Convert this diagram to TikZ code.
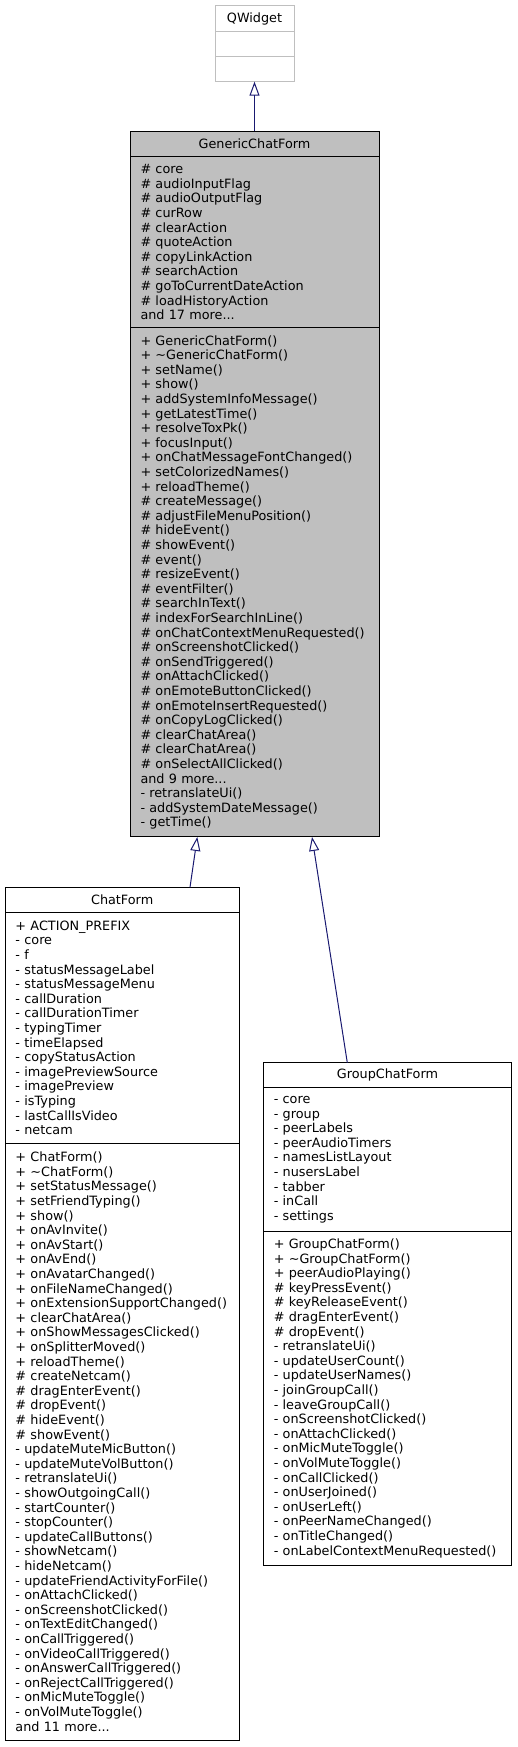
\documentclass[tikz,border=0pt]{standalone}
\usepackage{fontspec}
\setmainfont{DejaVu Sans}
\usetikzlibrary{positioning,arrows.meta}

\definecolor{edgeblue}{HTML}{191970}
\definecolor{classgray}{HTML}{BFBFBF}

\tikzset{
  uml font/.style={font=\fontsize{12.8pt}{14.6pt}\selectfont},
  uml title/.style={draw,uml font,minimum height=25pt,inner sep=0pt,outer sep=0pt,line width=1pt},
  uml part/.style={draw,uml font,align=left,inner xsep=10.5pt,inner ysep=0pt,outer sep=0pt,line width=1pt},
  uml extern/.style={draw=classgray,fill=white},
  uml current/.style={draw=black,fill=classgray},
  uml inherit/.style={edgeblue,line width=1pt,-{Triangle[open,length=14pt,width=10pt]}}
}

\begin{document}
\begin{tikzpicture}[x=1pt,y=-1pt]
  \useasboundingbox (0,0) rectangle (517,1747);
  % base class
  \node[uml title,uml extern,minimum width=79pt,minimum height=26pt] (qw) at (254.5,18.7) {QWidget};
  \node[uml part,uml extern,text width=58pt,minimum height=25pt,below=0pt of qw] (qwattr) {};
  \node[uml part,uml extern,text width=58pt,minimum height=25pt,below=0pt of qwattr] (qwmeth) {};

  % the documented class
  \node[uml title,uml current,minimum width=249pt] (gcf) at (254.5,143.85) {GenericChatForm};
  \node[uml part,uml current,text width=228pt,minimum height=171.6pt,below=0pt of gcf] (gcfattr) {%
    \# core\\ \# audioInputFlag\\ \# audioOutputFlag\\ \# curRow\\ \# clearAction\\
    \# quoteAction\\ \# copyLinkAction\\ \# searchAction\\ \# goToCurrentDateAction\\
    \# loadHistoryAction\\ and 17 more...};
  \node[uml part,uml current,text width=228pt,minimum height=509pt,below=0pt of gcfattr] (gcfmeth) {%
    + GenericChatForm()\\ + \textasciitilde GenericChatForm()\\ + setName()\\ + show()\\
    + addSystemInfoMessage()\\ + getLatestTime()\\ + resolveToxPk()\\ + focusInput()\\
    + onChatMessageFontChanged()\\ + setColorizedNames()\\ + reloadTheme()\\
    \# createMessage()\\ \# adjustFileMenuPosition()\\ \# hideEvent()\\ \# showEvent()\\
    \# event()\\ \# resizeEvent()\\ \# eventFilter()\\ \# searchInText()\\
    \# indexForSearchInLine()\\ \# onChatContextMenuRequested()\\ \# onScreenshotClicked()\\
    \# onSendTriggered()\\ \# onAttachClicked()\\ \# onEmoteButtonClicked()\\
    \# onEmoteInsertRequested()\\ \# onCopyLogClicked()\\ \# clearChatArea()\\
    \# clearChatArea()\\ \# onSelectAllClicked()\\ and 9 more...\\ - retranslateUi()\\
    - addSystemDateMessage()\\ - getTime()};

  % derived classes
  \node[uml title,uml current,fill=white,minimum width=234.3pt] (cf) at (122.15,899.8) {ChatForm};
  \node[uml part,uml current,fill=white,text width=213.3pt,minimum height=231pt,below=0pt of cf] (cfattr) {%
    + ACTION\_PREFIX\\ - core\\ - f\\ - statusMessageLabel\\ - statusMessageMenu\\
    - callDuration\\ - callDurationTimer\\ - typingTimer\\ - timeElapsed\\
    - copyStatusAction\\ - imagePreviewSource\\ - imagePreview\\ - isTyping\\
    - lastCallIsVideo\\ - netcam};
  \node[uml part,uml current,fill=white,text width=213.3pt,minimum height=596.7pt,below=0pt of cfattr] (cfmeth) {%
    + ChatForm()\\ + \textasciitilde ChatForm()\\ + setStatusMessage()\\ + setFriendTyping()\\
    + show()\\ + onAvInvite()\\ + onAvStart()\\ + onAvEnd()\\ + onAvatarChanged()\\
    + onFileNameChanged()\\ + onExtensionSupportChanged()\\ + clearChatArea()\\
    + onShowMessagesClicked()\\ + onSplitterMoved()\\ + reloadTheme()\\
    \# createNetcam()\\ \# dragEnterEvent()\\ \# dropEvent()\\ \# hideEvent()\\
    \# showEvent()\\ - updateMuteMicButton()\\ - updateMuteVolButton()\\
    - retranslateUi()\\ - showOutgoingCall()\\ - startCounter()\\ - stopCounter()\\
    - updateCallButtons()\\ - showNetcam()\\ - hideNetcam()\\
    - updateFriendActivityForFile()\\ - onAttachClicked()\\ - onScreenshotClicked()\\
    - onTextEditChanged()\\ - onCallTriggered()\\ - onVideoCallTriggered()\\
    - onAnswerCallTriggered()\\ - onRejectCallTriggered()\\ - onMicMuteToggle()\\
    - onVolMuteToggle()\\ and 11 more...};

  \node[uml title,uml current,fill=white,minimum width=248.4pt] (gcf2) at (387.5,1075.2) {GroupChatForm};
  \node[uml part,uml current,fill=white,text width=227.4pt,minimum height=144pt,below=0pt of gcf2] (gcf2attr) {%
    - core\\ - group\\ - peerLabels\\ - peerAudioTimers\\ - namesListLayout\\
    - nusersLabel\\ - tabber\\ - inCall\\ - settings};
  \node[uml part,uml current,fill=white,text width=227.4pt,minimum height=333.3pt,below=0pt of gcf2attr] (gcf2meth) {%
    + GroupChatForm()\\ + \textasciitilde GroupChatForm()\\ + peerAudioPlaying()\\
    \# keyPressEvent()\\ \# keyReleaseEvent()\\ \# dragEnterEvent()\\ \# dropEvent()\\
    - retranslateUi()\\ - updateUserCount()\\ - updateUserNames()\\ - joinGroupCall()\\
    - leaveGroupCall()\\ - onScreenshotClicked()\\ - onAttachClicked()\\
    - onMicMuteToggle()\\ - onVolMuteToggle()\\ - onCallClicked()\\ - onUserJoined()\\
    - onUserLeft()\\ - onPeerNameChanged()\\ - onTitleChanged()\\
    - onLabelContextMenuRequested()};

  % inheritance
  \draw[uml inherit] (gcf.north) -- (qwmeth.south);
  \draw[uml inherit] ([xshift=185pt]cf.north west) -- ([xshift=67.3pt]gcfmeth.south west);
  \draw[uml inherit] ([xshift=84pt]gcf2.north west) -- ([xshift=182pt]gcfmeth.south west);
\end{tikzpicture}
\end{document}
